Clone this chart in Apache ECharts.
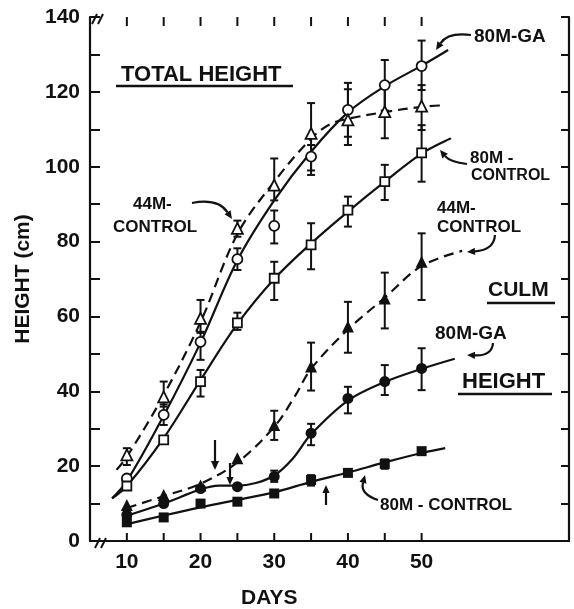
<!DOCTYPE html>
<html><head><meta charset="utf-8">
<script src="https://cdn.jsdelivr.net/npm/echarts@6/dist/echarts.min.js"></script>
<style>html,body{margin:0;padding:0;background:#fff}#c{width:574px;height:609px}</style>
</head><body><div id="c"></div>
<script>
// ---- data ----
const days = [10, 15, 20, 25, 30, 35, 40, 45, 50];
const tickDays = [10, 15, 20, 25, 30, 35, 40, 45, 50];
const labelDays = [10, 20, 30, 40, 50];
const yLabelValues = [0, 20, 40, 60, 80, 100, 120, 140];

// TOTAL HEIGHT (open symbols)
const ga80Total  = [16.7, 33.7, 53.2, 75.3, 84.2, 102.7, 115.2, 121.8, 126.9];
const ga80TotalErr = [null, [31, 36.5], [48.4, 55.9], [72.4, 78.2], [79.5, 88.3], [97.8, 105.8], [108, 122.4], [115, 128.5], [120.5, 133.7]];
const c44Total   = [23, 38.5, 59.5, 83.5, 95.1, 108.9, 112.5, 114.7, 116.2];
const c44TotalErr = [[20.3, 24.8], [35.9, 42.6], [55.6, 64.4], [81.3, 85.6], [91, 102.2], [99, 117], [105.8, 120.7], [107.6, 121], [109.8, 121.8]];
const c80Total   = [14.7, 27, 42.6, 58.3, 70.2, 79.1, 88.4, 96, 103.7];
const c80TotalErr = [null, null, [38.6, 45.7], [56.4, 61], [64.4, 74.6], [72.6, 84.9], [84, 92], [91.1, 100.5], [96, 111.1]];

// CULM HEIGHT (filled symbols)
const c44Culm    = [9.6, 12.3, 14.8, 22.1, 31, 46.6, 57.3, 64.8, 74.6];
const c44CulmErr = [null, null, null, null, [27, 34.8], [40.2, 53], [50.3, 63.9], [56.8, 71.7], [64.4, 82.2]];
const ga80Culm   = [7, 10, 14, 14.5, 17.2, 28.8, 38.1, 42.6, 46.1];
const ga80CulmErr = [null, null, null, null, [15.8, 18.8], [25.6, 31.3], [34.1, 41.2], [39, 47], [40.3, 51.5]];
const c80Culm    = [5, 6.3, 10, 10.5, 12.7, 16.3, 18.2, 20.6, 24];
const c80CulmErr = [null, null, null, null, null, [14.8, 17.6], null, [19.3, 21.8], null];

// fitted curves drawn in the figure, [day, height]
const ga80TotalCurve = [[8, 11.4], [10, 16], [15, 33.5], [20, 53], [25, 75], [30, 91], [35, 104], [40, 114.5], [45, 121.5], [50, 127], [53.6, 131.2]];
const c44TotalCurve  = [[8.6, 19], [10, 22.5], [15, 39], [20, 58.5], [25, 82], [30, 96], [35, 107.5], [37.5, 111.3], [40, 112.8], [45, 114.6], [50, 116], [53, 116.4]];
const c80TotalCurve  = [[8, 11.4], [10, 14.7], [15, 27.5], [20, 43], [25, 58], [30, 70], [35, 79.5], [40, 88], [45, 96], [50, 103.5], [54, 107.6]];
const c44CulmCurve   = [[10, 8.8], [15, 12], [20, 15.3], [25, 21], [30, 30.5], [32.75, 38.5], [35, 46], [40, 56.5], [45, 65], [50, 73.5], [55.5, 77.5]];
const ga80CulmCurve  = [[9.6, 6.5], [15, 10], [20, 13.8], [22.5, 14.8], [25, 14.8], [27.5, 15.5], [30, 17.5], [32.5, 22], [35, 28.5], [40, 37.5], [45, 42.5], [50, 46], [54.5, 48.7]];
const c80CulmCurve   = [[9.6, 4.3], [15, 6.8], [20, 9], [25, 11], [30, 13], [35, 15.8], [40, 18.3], [45, 21], [50, 23.5], [53.2, 24.8]];

// ---- chart ----
const INK = '#111';
const FONT = '"Liberation Sans", Arial, sans-serif';
const Y_MIN = 0, Y_MAX = 140;

function pts(vals) { return days.map((d, i) => [d, vals[i]]); }
function errs(list) {
  const out = [];
  list.forEach((e, i) => { if (e) out.push([days[i], e[0], e[1]]); });
  return out;
}
const allErr = [].concat(errs(ga80TotalErr), errs(c44TotalErr), errs(c80TotalErr),
                         errs(c44CulmErr), errs(ga80CulmErr), errs(c80CulmErr));

function lineSeries(data, dashed) {
  return { type: 'line', data: data, smooth: 0.35, showSymbol: false, symbol: 'none', z: 2,
    lineStyle: { color: INK, width: 2.2, type: dashed ? [10, 6] : 'solid', opacity: 1 }, silent: true };
}
function scatter(data, symbol, size, filled) {
  return { type: 'scatter', data: data, symbol: symbol, symbolSize: size, z: 4, silent: true,
    itemStyle: { color: filled ? INK : '#fff', borderColor: INK, borderWidth: filled ? 0 : 1.8, opacity: 1 } };
}

function arrow(x1, y1, cx, cy, x2, y2, head) {
  head = head || 8;
  const dx = x2 - cx, dy = y2 - cy, L = Math.hypot(dx, dy), ux = dx / L, uy = dy / L;
  const bx = x2 - ux * head, by = y2 - uy * head, w = head * 0.45;
  return [
    { type: 'bezierCurve', shape: { x1: x1, y1: y1, x2: bx, y2: by, cpx1: cx, cpy1: cy },
      style: { stroke: INK, lineWidth: 2.2, fill: null } },
    { type: 'polygon', shape: { points: [[x2, y2], [bx - uy * w, by + ux * w], [bx + uy * w, by - ux * w]] },
      style: { fill: INK } }
  ];
}
function txt(x, y, s, size) {
  return { type: 'text', x: x, y: y, style: { text: s, fontSize: size, fontWeight: 'bold', fontFamily: FONT,
    fill: INK, verticalAlign: 'middle', align: 'left' } };
}
function seg(x1, y1, x2, y2, w) {
  return { type: 'line', shape: { x1: x1, y1: y1, x2: x2, y2: y2 }, style: { stroke: INK, lineWidth: w || 2 } };
}

const graphic = [].concat(
  [txt(121, 75, 'TOTAL HEIGHT', 22), seg(116, 86, 293, 86, 2.6)],
  [txt(474, 37, '80M-GA', 19)], arrow(471, 35, 448, 32, 436, 50),
  [txt(470, 158, '80M -', 17), txt(471, 176, 'CONTROL', 16)], arrow(467, 164, 450, 162, 440, 150),
  [txt(133, 204, '44M-', 17), txt(113, 227, 'CONTROL', 17)], arrow(192, 203, 218, 198, 232, 219),
  [txt(437, 208, '44M-', 17), txt(437, 227, 'CONTROL', 17)], arrow(495, 235, 494, 250, 467, 252),
  [txt(488, 290, 'CULM', 21), seg(487, 303, 555, 303, 2.6)],
  [txt(435, 334, '80M-GA', 19)], arrow(493, 343, 492, 356, 467, 355),
  [txt(462, 382, 'HEIGHT', 22), seg(458, 394, 552, 394, 2.6)],
  [txt(380, 505, '80M - CONTROL', 17)], arrow(378, 500, 360, 494, 365, 475),
  arrow(215, 440, 215, 455, 215, 470, 9),
  arrow(230, 463, 230, 474, 230, 485, 8),
  arrow(326, 505, 326, 495, 326, 485, 8),
  [txt(241, 598, 'DAYS', 21)],
  // axis break marks
  [seg(92, 24, 97, 14, 2), seg(98, 24, 103, 14, 2), seg(95, 548, 100, 538, 2), seg(101, 548, 106, 538, 2)]
);

const axisLine = { show: true, lineStyle: { color: INK, width: 2.2 } };
const labelStyle = { color: INK, fontSize: 21, fontWeight: 'bold', fontFamily: FONT };

const option = {
  animation: false,
  backgroundColor: '#fff',
  grid: { left: 90, right: 5, top: 17, bottom: 68 },
  xAxis: [
    { type: 'value', min: 5, max: 70, position: 'bottom', axisLine: axisLine, splitLine: { show: false },
      axisTick: { show: false },
      axisLabel: Object.assign({ customValues: labelDays, margin: 11 }, labelStyle) },
    { type: 'value', min: 5, max: 70, position: 'top', axisLine: axisLine, splitLine: { show: false },
      axisTick: { show: false }, axisLabel: { show: false } }
  ],
  yAxis: [
    { type: 'value', min: Y_MIN, max: Y_MAX, interval: 10, position: 'left', axisLine: axisLine, splitLine: { show: false },
      axisTick: { show: true, inside: true, length: 10, lineStyle: { color: INK, width: 2 } },
      axisLabel: Object.assign({ customValues: yLabelValues, margin: 10 }, labelStyle),
      name: 'HEIGHT (cm)', nameLocation: 'middle', nameGap: 52,
      nameTextStyle: { color: INK, fontSize: 21, fontWeight: 'bold', fontFamily: FONT } },
    { type: 'value', min: Y_MIN, max: Y_MAX, interval: 10, position: 'right', axisLine: axisLine, splitLine: { show: false },
      axisTick: { show: true, inside: true, length: 8, lineStyle: { color: INK, width: 2 } },
      axisLabel: { show: false } }
  ],
  series: [
    // x-axis ticks on bottom and top frame, placed through the axis scale
    { type: 'custom', data: tickDays.map(d => [d]), z: 3, silent: true, clip: false,
      renderItem: function (params, api) {
        const b = api.coord([api.value(0), Y_MIN]), t = api.coord([api.value(0), Y_MAX]);
        const st = { stroke: INK, lineWidth: 2 };
        return { type: 'group', children: [
          { type: 'line', shape: { x1: b[0], y1: b[1], x2: b[0], y2: b[1] - 8 }, style: st },
          { type: 'line', shape: { x1: t[0], y1: t[1], x2: t[0], y2: t[1] + 9 }, style: st }
        ] };
      } },
    { type: 'custom', data: allErr, z: 1, silent: true,
      renderItem: function (params, api) {
        const x = api.value(0);
        const a = api.coord([x, api.value(1)]), b = api.coord([x, api.value(2)]);
        const c = 4;
        const st = { stroke: INK, lineWidth: 2 };
        return { type: 'group', children: [
          { type: 'line', shape: { x1: a[0], y1: a[1], x2: b[0], y2: b[1] }, style: st },
          { type: 'line', shape: { x1: a[0] - c, y1: a[1], x2: a[0] + c, y2: a[1] }, style: st },
          { type: 'line', shape: { x1: b[0] - c, y1: b[1], x2: b[0] + c, y2: b[1] }, style: st }
        ] };
      } },
    lineSeries(ga80TotalCurve, false),
    lineSeries(c44TotalCurve, true),
    lineSeries(c80TotalCurve, false),
    lineSeries(c44CulmCurve, true),
    lineSeries(ga80CulmCurve, false),
    lineSeries(c80CulmCurve, false),
    scatter(pts(ga80Total), 'circle', 10, false),
    scatter(pts(c44Total), 'triangle', 11, false),
    scatter(pts(c80Total), 'rect', 9, false),
    scatter(pts(c44Culm), 'triangle', 12, true),
    scatter(pts(ga80Culm), 'circle', 11, true),
    scatter(pts(c80Culm), 'rect', 10, true)
  ],
  graphic: graphic
};

const chart = echarts.init(document.getElementById('c'), null, { renderer: 'canvas' });
chart.setOption(option);
</script>
</body></html>
